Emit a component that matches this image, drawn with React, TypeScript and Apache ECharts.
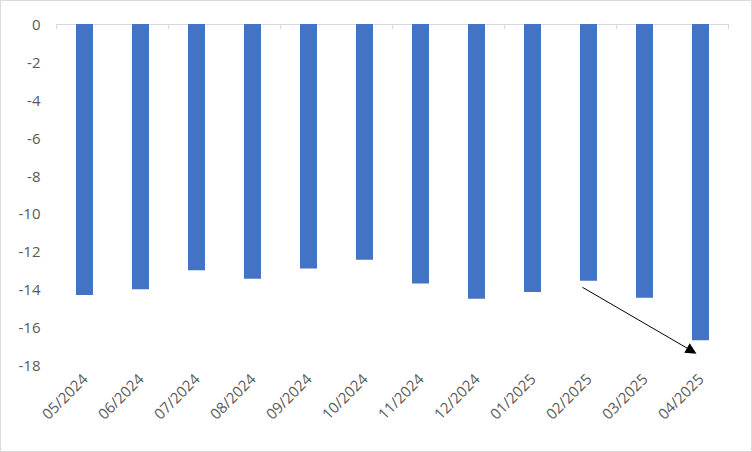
import React, { useEffect, useRef } from "react";
import * as echarts from "echarts";

const categories = ["05/2024", "06/2024", "07/2024", "08/2024", "09/2024", "10/2024", "11/2024", "12/2024", "01/2025", "02/2025", "03/2025", "04/2025"];
const values = [-14.3, -14.0, -13.0, -13.45, -12.9, -12.45, -13.7, -14.5, -14.15, -13.55, -14.45, -16.7];
const arrowFrom = { index: 9, value: -13.9 };
const arrowTo = { index: 11, value: -17.4 };

export default function App() {
  const ref = useRef<HTMLDivElement>(null);
  useEffect(() => {
    document.body.style.margin = "0";
    const chart = echarts.init(ref.current!, null, { renderer: "svg" });
    const font = "'Open Sans', 'Noto Sans', sans-serif";
    chart.setOption({
      animation: false,
      backgroundColor: "#ffffff",
      grid: { left: 56.5, right: 23.5, top: 24, bottom: 87, containLabel: false },
      xAxis: [
        {
          type: "category",
          data: categories,
          position: "top",
          axisLine: { show: true, lineStyle: { color: "#d9d9d9", width: 1 } },
          axisTick: { show: true, inside: true, length: 5, lineStyle: { color: "#d9d9d9" } },
          axisLabel: { show: false },
          splitLine: { show: false },
        },
        {
          type: "category",
          data: categories,
          position: "bottom",
          axisLine: { show: false },
          axisTick: { show: false },
          axisLabel: { rotate: 45, margin: 11, color: "#595959", fontSize: 15, fontFamily: font },
          splitLine: { show: false },
        },
      ],
      yAxis: {
        type: "value",
        min: -18,
        max: 0,
        interval: 2,
        axisLine: { show: false },
        axisTick: { show: false },
        splitLine: { show: false },
        axisLabel: { color: "#595959", fontSize: 15, fontFamily: font, margin: 16 },
      },
      series: [
        {
          type: "bar",
          data: values,
          xAxisIndex: 0,
          barWidth: 17,
          itemStyle: { color: "#4472C4" },
        },
      ],
    });
    const p1 = chart.convertToPixel({ gridIndex: 0 }, [arrowFrom.index, arrowFrom.value]) as number[];
    const p2 = chart.convertToPixel({ gridIndex: 0 }, [arrowTo.index, arrowTo.value]) as number[];
    const x1 = p1[0] - 6, y1 = p1[1];
    const x2 = p2[0] - 4, y2 = p2[1];
    const ang = Math.atan2(y2 - y1, x2 - x1);
    const headLen = 11, headW = 5.5;
    const bx = x2 - headLen * Math.cos(ang), by = y2 - headLen * Math.sin(ang);
    const nx = -Math.sin(ang), ny = Math.cos(ang);
    chart.setOption({
      graphic: [
        {
          type: "rect",
          shape: { x: 0.5, y: 0.5, width: 751, height: 451 },
          style: { fill: "none", stroke: "#d9d9d9", lineWidth: 1 },
          silent: true,
        },
        {
          type: "line",
          shape: { x1, y1, x2: bx, y2: by },
          style: { stroke: "#000000", lineWidth: 1 },
        },
        {
          type: "polygon",
          shape: { points: [[x2, y2], [bx + nx * headW, by + ny * headW], [bx - nx * headW, by - ny * headW]] },
          style: { fill: "#000000" },
        },
      ],
    });
    return () => chart.dispose();
  }, []);
  return <div ref={ref} style={{ width: 752, height: 452 }} />;
}
